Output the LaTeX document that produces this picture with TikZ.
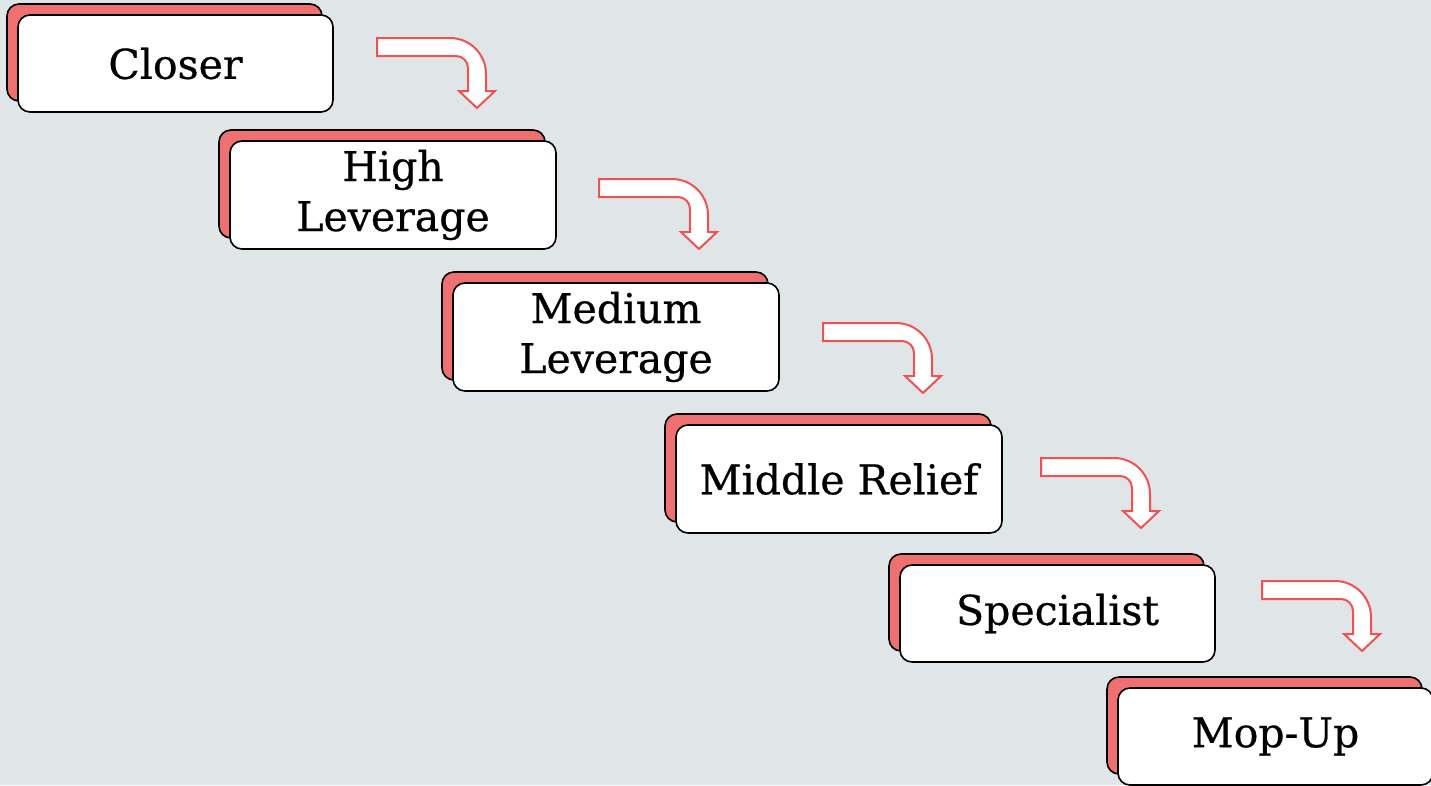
\documentclass[tikz,border=0pt]{standalone}
\usepackage{fontspec}
\setmainfont{DejaVu Serif}[FakeBold=0.6]
\definecolor{bg}{RGB}{224,229,232}
\definecolor{shadowred}{RGB}{238,112,112}
\definecolor{arrowred}{RGB}{240,82,82}
\tikzset{
  frontbox/.style={draw=black, line width=1.6pt, fill=white, rounded corners=12pt, inner sep=0pt, align=center,
    font=\fontsize{41}{50}\selectfont},
  backbox/.style={draw=black, line width=1.6pt, fill=shadowred, rounded corners=12pt, inner sep=0pt},
  small/.style={minimum width=315pt, minimum height=97pt},
  large/.style={minimum width=326pt, minimum height=108pt},
  arrowstyle/.style={draw=arrowred, line width=2pt, fill=white, line join=miter},
  bentarrow/.pic={\path[arrowstyle] (0,0) -- (73,0) .. controls (92.9,0) and (109,16.1) .. (109,36) -- (109,53) -- (118,53) -- (100,70) -- (82,53) -- (91,53) -- (91,30) .. controls (91,23.4) and (85.6,18) .. (79,18) -- (0,18) -- cycle;}
}
\begin{document}
\begin{tikzpicture}[x=1pt,y=-1pt]
\fill[bg] (0,0) rectangle (1431,785);
\useasboundingbox (0,0) rectangle (1431,785);
% boxes
\node[backbox, small] (s1) at (164.5,52.5) {};
\node[frontbox, small] (b1) at (175.5,63.5) {Closer};
\node[backbox, large] (s2) at (382,184) {};
\node[frontbox, large] (b2) at (393,195) {High\\Leverage};
\node[backbox, large] (s3) at (605,326) {};
\node[frontbox, large] (b3) at (616,337) {Medium\\Leverage};
\node[backbox, large] (s4) at (828,468) {};
\node[frontbox, large] (b4) at (839,479) {Middle Relief};
\node[backbox, small] (s5) at (1046.5,602.5) {};
\node[frontbox, small] (b5) at (1057.5,613.5) {Specialist};
\node[backbox, small] (s6) at (1264.5,725.5) {};
\node[frontbox, small] (b6) at (1275.5,736.5) {Mop-Up};
% arrows
\coordinate (a1) at (377,38);
\coordinate (a2) at (599,179);
\coordinate (a3) at (823,323);
\coordinate (a4) at (1041,458);
\coordinate (a5) at (1262,581);
\pic at (a1) {bentarrow};
\pic at (a2) {bentarrow};
\pic at (a3) {bentarrow};
\pic at (a4) {bentarrow};
\pic at (a5) {bentarrow};
\end{tikzpicture}
\end{document}
